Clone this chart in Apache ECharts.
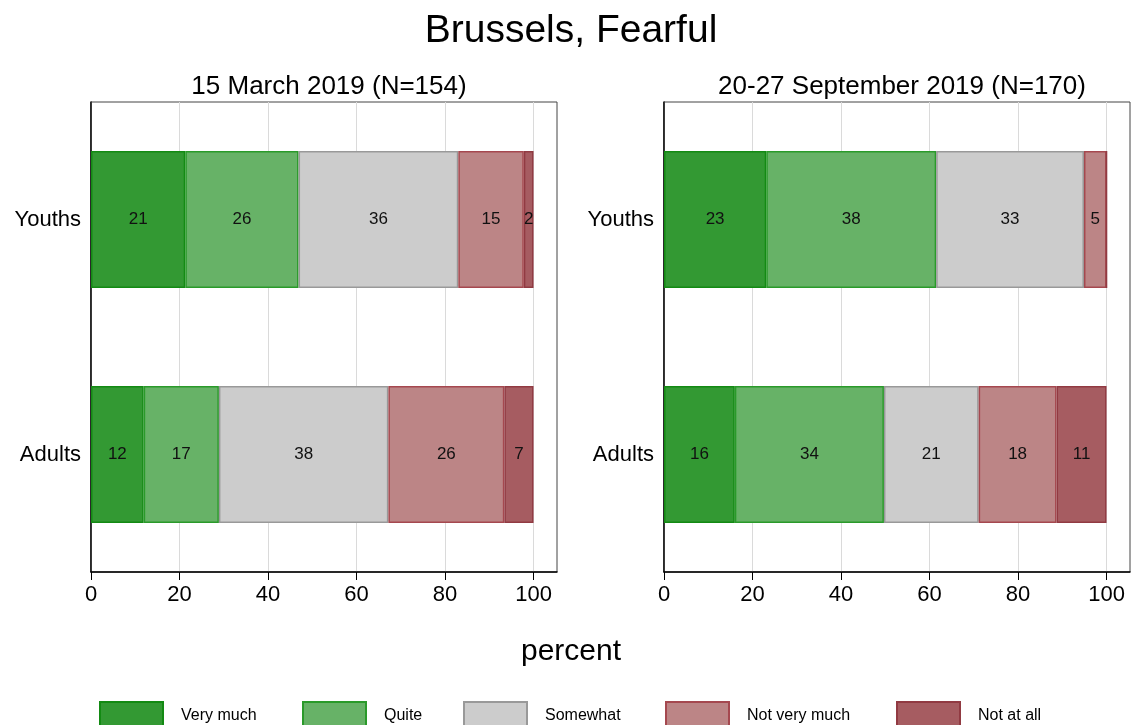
<!DOCTYPE html>
<html>
<head>
<meta charset="utf-8">
<script src="https://cdn.jsdelivr.net/npm/echarts@6/dist/echarts.min.js"></script>
<style>
html,body{margin:0;padding:0;background:#fff;}
#chart{width:1132px;height:725px;}
</style>
</head>
<body>
<div id="chart"></div>
<script>
// ---- data ----
const categories = ['Youths', 'Adults'];
const responses = ['Very much', 'Quite', 'Somewhat', 'Not very much', 'Not at all'];
const xTicks = [0, 20, 40, 60, 80, 100];
const mainTitle = 'Brussels, Fearful';
const panelTitles = ['15 March 2019 (N=154)', '20-27 September 2019 (N=170)'];
const xTitle = 'percent';
// percentages per response (Very much ... Not at all)
const marchYouths = [21.3, 25.6, 36.1, 14.8, 2.2];
const marchAdults = [11.9, 17.0, 38.3, 26.2, 6.6];
const septYouths = [23.1, 38.4, 33.4, 5.1, 0];
const septAdults = [16.0, 33.7, 21.4, 17.6, 11.3];

// ---- styles ----
const FONT = '"Liberation Sans", Arial, sans-serif';
const fills = ['#339933', '#67b267', '#cccccc', '#bc8586', '#a65c61'];
const borders = ['#138a13', '#2a9a2a', '#999999', '#a5484f', '#913a42'];

const panels = [
  {youths: marchYouths, adults: marchAdults, left: 91},
  {youths: septYouths, adults: septAdults, left: 664}
];
const GRID_W = 466, GRID_TOP = 102, GRID_H = 470;

const grids = [], xAxes = [], yAxes = [], series = [];
panels.forEach((p, pi) => {
  grids.push({left: p.left, top: GRID_TOP, width: GRID_W, height: GRID_H,
    show: true, borderColor: '#444', borderWidth: 1, containLabel: false});
  xAxes.push({
    type: 'value', gridIndex: pi, min: 0, max: 105.3, interval: 20,
    axisLine: {show: true, onZero: false, lineStyle: {color: '#000', width: 1.5}},
    axisTick: {show: true, length: 8, lineStyle: {color: '#000', width: 1}, customValues: xTicks},
    axisLabel: {color: '#000', fontSize: 22, fontFamily: FONT, margin: 12, customValues: xTicks,
      formatter: v => (xTicks.indexOf(v) >= 0 ? String(v) : '')},
    splitLine: {show: true, lineStyle: {color: '#dadada', width: 1}}
  });
  yAxes.push({
    type: 'category', gridIndex: pi, data: categories, inverse: true,
    axisLine: {show: true, lineStyle: {color: '#000', width: 1.5}},
    axisTick: {show: false},
    axisLabel: {color: '#000', fontSize: 22, fontFamily: FONT, margin: 10},
    splitLine: {show: false}
  });
  responses.forEach((name, i) => {
    series.push({
      name: name, type: 'bar', stack: 'p' + pi, xAxisIndex: pi, yAxisIndex: pi,
      barWidth: 137,
      data: [p.youths[i], p.adults[i]],
      itemStyle: {color: fills[i], borderColor: borders[i], borderWidth: 1.5},
      label: {show: true, position: 'inside', color: '#111', fontSize: 17, fontFamily: FONT,
        formatter: prm => (prm.value > 0 ? String(Math.round(prm.value)) : '')},
      emphasis: {disabled: true}
    });
  });
});

const legendLefts = [94, 297, 458, 660, 891];
const legends = responses.map((name, i) => ({
  data: [name], left: legendLefts[i], top: 696, orient: 'horizontal',
  itemWidth: 63, itemHeight: 27, icon: 'rect', selectedMode: false,
  textStyle: {color: '#000', fontSize: 16, fontFamily: FONT, padding: [0, 0, 0, 13]}
}));

const titles = [
  {text: mainTitle, left: 566, top: 7, textAlign: 'center',
    textStyle: {fontSize: 39, fontWeight: 'normal', color: '#000', fontFamily: FONT}},
  {text: panelTitles[0], left: 324, top: 69, textAlign: 'center',
    textStyle: {fontSize: 26, fontWeight: 'normal', color: '#000', fontFamily: FONT}},
  {text: panelTitles[1], left: 897, top: 69, textAlign: 'center',
    textStyle: {fontSize: 26, fontWeight: 'normal', color: '#000', fontFamily: FONT}},
  {text: xTitle, left: 566, top: 632, textAlign: 'center',
    textStyle: {fontSize: 30, fontWeight: 'normal', color: '#000', fontFamily: FONT}}
];

const chart = echarts.init(document.getElementById('chart'), null, {renderer: 'canvas'});
chart.setOption({
  backgroundColor: '#fff',
  animation: false,
  title: titles,
  legend: legends,
  grid: grids,
  xAxis: xAxes,
  yAxis: yAxes,
  series: series
});
</script>
</body>
</html>
